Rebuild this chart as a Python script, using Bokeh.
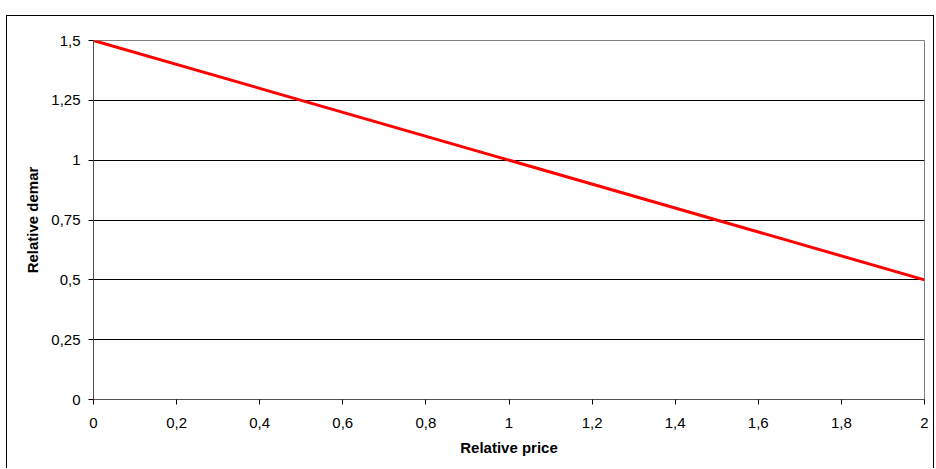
from bokeh.plotting import figure
from bokeh.embed import file_html
from bokeh.resources import INLINE
from bokeh.models import FixedTicker, Range1d

# Data
price = [0.0, 2.0]
demand = [1.5, 0.5]
x_ticks = [0, 0.2, 0.4, 0.6, 0.8, 1.0, 1.2, 1.4, 1.6, 1.8, 2.0]
x_labels = ["0", "0,2", "0,4", "0,6", "0,8", "1", "1,2", "1,4", "1,6", "1,8", "2"]
y_ticks = [0, 0.25, 0.5, 0.75, 1.0, 1.25, 1.5]
y_labels = ["0", "0,25", "0,5", "0,75", "1", "1,25", "1,5"]

FONT = "Liberation Sans"

p = figure(width=928, height=453, output_backend="svg", toolbar_location=None,
           x_range=Range1d(0, 2), y_range=Range1d(0, 1.5),
           min_border_left=86, min_border_right=11, min_border_top=24, min_border_bottom=70)
p.margin = (15, 0, 0, 6)
p.styles = {"border-top": "1px solid black", "border-left": "1px solid black",
            "border-right": "1px solid black"}

p.outline_line_color = "#808080"
p.outline_line_width = 1

p.xgrid.grid_line_color = None
p.ygrid.grid_line_color = "black"
p.ygrid.grid_line_width = 1
p.ygrid.ticker = FixedTicker(ticks=y_ticks)

p.xaxis.ticker = FixedTicker(ticks=x_ticks)
p.yaxis.ticker = FixedTicker(ticks=y_ticks)
p.xaxis.major_label_overrides = {t: l for t, l in zip(x_ticks, x_labels)}
p.yaxis.major_label_overrides = {t: l for t, l in zip(y_ticks, y_labels)}

for ax in (p.xaxis, p.yaxis):
    ax.axis_line_color = "#505050"
    ax.axis_line_width = 1
    ax.major_tick_line_color = "black"
    ax.major_tick_out = 5
    ax.major_tick_in = 0
    ax.minor_tick_line_color = None
    ax.major_label_text_font = FONT
    ax.major_label_text_font_size = "15px"
    ax.major_label_text_color = "black"
    ax.axis_label_text_font = FONT
    ax.axis_label_text_font_size = "15px"
    ax.axis_label_text_font_style = "bold"
    ax.axis_label_text_color = "black"

p.xaxis.axis_label = "Relative price"
p.yaxis.axis_label = "Relative demar"
p.xaxis.major_label_standoff = 13
p.yaxis.major_label_standoff = 8
p.xaxis.axis_label_standoff = 8
p.yaxis.axis_label_standoff = 7

p.line(price, demand, line_color="red", line_width=3)

open("out.html", "w").write(file_html(p, INLINE))
